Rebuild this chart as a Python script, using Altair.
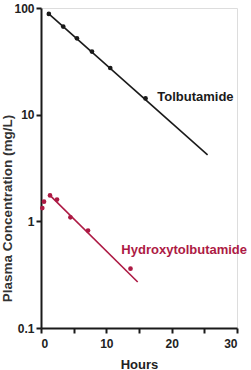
import altair as alt
import pandas as pd

# Tolbutamide measurements
tol_hours = [1.2, 3.4, 5.5, 7.8, 10.6, 16.0]
tol_conc = [88, 67, 52, 39, 27.4, 14.2]
# Tolbutamide fitted line endpoints
tol_fit_hours = [1.2, 25.5]
tol_fit_conc = [88, 4.2]

# Hydroxytolbutamide measurements
hyd_hours = [0.2, 0.46, 1.38, 2.45, 4.5, 7.2, 13.7]
hyd_conc = [1.33, 1.53, 1.75, 1.6, 1.09, 0.82, 0.36]
hyd_fit_hours = [1.38, 14.8]
hyd_fit_conc = [1.75, 0.27]

# labels
label_text = ["Tolbutamide", "Hydroxytolbutamide"]
label_hours = [17.8, 12.3]
label_conc = [14.5, 0.54]
label_series = ["Tolbutamide", "Hydroxytolbutamide"]

series_names = ["Tolbutamide", "Hydroxytolbutamide"]
series_colors = ["#1a1a1a", "#AD1A44"]

pts = pd.DataFrame({
    "hours": tol_hours + hyd_hours,
    "conc": tol_conc + hyd_conc,
    "series": ["Tolbutamide"] * len(tol_hours) + ["Hydroxytolbutamide"] * len(hyd_hours),
})
fit = pd.DataFrame({
    "hours": tol_fit_hours + hyd_fit_hours,
    "conc": tol_fit_conc + hyd_fit_conc,
    "series": ["Tolbutamide"] * 2 + ["Hydroxytolbutamide"] * 2,
})
labels = pd.DataFrame({"hours": label_hours, "conc": label_conc,
                       "text": label_text, "series": label_series})

FONT = "Liberation Sans"

x = alt.X("hours:Q",
          scale=alt.Scale(domain=[0, 30], nice=False, zero=False),
          axis=alt.Axis(title="Hours", values=[0, 5, 10, 15, 20, 25, 30],
                        labelExpr="datum.value % 10 == 0 ? datum.label : ''",
                        grid=False, domainColor="#1a1a1a", domainWidth=2,
                        tickColor="#1a1a1a", tickWidth=2, tickSize=5,
                        labelFont=FONT, labelFontSize=12, labelFontWeight="bold",
                        labelColor="#222", labelPadding=5,
                        titleFont=FONT, titleFontSize=13, titleFontWeight="bold",
                        titleColor="#222", titlePadding=9))
y = alt.Y("conc:Q",
          scale=alt.Scale(type="log", domain=[0.1, 100], nice=False),
          axis=alt.Axis(title="Plasma Concentration (mg/L)", values=[0.1, 1, 10, 100],
                        format="~g", grid=False, domainColor="#1a1a1a", domainWidth=2,
                        tickColor="#1a1a1a", tickWidth=2, tickSize=5,
                        labelFont=FONT, labelFontSize=12, labelFontWeight="bold",
                        labelColor="#222", labelPadding=2,
                        titleFont=FONT, titleFontSize=13.5, titleFontWeight="bold",
                        titleColor="#333", titleAngle=270, titleBaseline="middle",
                        titleAlign="center", titleX=-34, titleY=200))
color = alt.Color("series:N", scale=alt.Scale(domain=series_names, range=series_colors),
                  legend=None)

lines = alt.Chart(fit).mark_line(strokeWidth=1.6).encode(x=x, y=y, color=color, detail="series:N")
points = alt.Chart(pts).mark_circle(size=22, opacity=1).encode(x=x, y=y, color=color)
texts = alt.Chart(labels).mark_text(align="left", baseline="middle", font=FONT,
                                    fontSize=13, fontWeight="bold").encode(
    x=x, y=y, text="text:N", color=color)

chart = alt.layer(lines, points, texts).properties(
    width=196, height=320,
    autosize=alt.AutoSizeParams(type="none"),
    padding={"left": 41, "top": 8, "right": 14, "bottom": 42},
).configure_view(stroke=None).configure(background="white")

chart.save("out.html", embed_options={"renderer": "svg", "actions": False})
